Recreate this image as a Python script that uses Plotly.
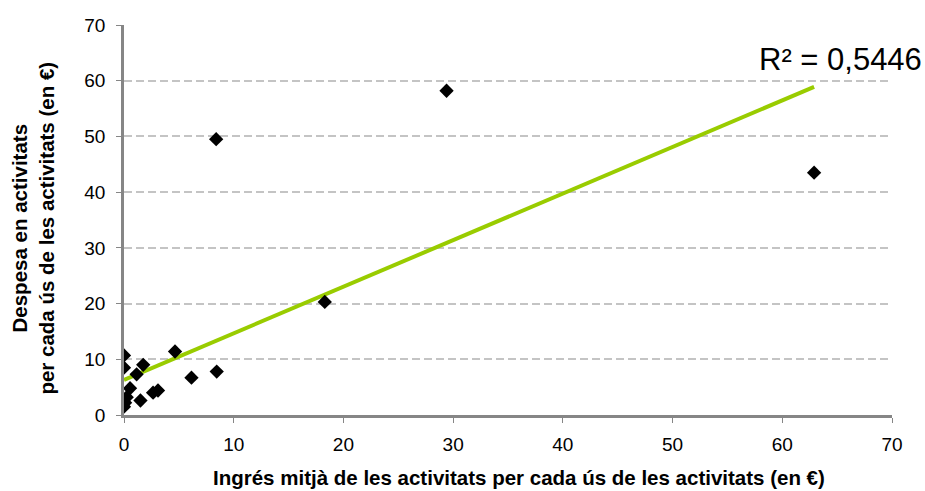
import plotly.graph_objects as go

# Average income per activity use (€) vs spending per activity use (€)
ingres = [29.4, 8.4, 62.9, 18.3, 4.65, 8.45, 6.15, 3.1, 2.65, 1.5,
          1.75, 1.15, 0.55, 0.25, 0.0, 0.0, 0.0, 0.0, 0.1]
despesa = [58.2, 49.5, 43.5, 20.3, 11.4, 7.8, 6.7, 4.4, 4.0, 2.6,
           9.0, 7.3, 4.8, 3.2, 10.7, 8.5, 2.8, 1.5, 2.2]

# Linear trend line: values at the lowest and highest income
trend_x = [min(ingres), max(ingres)]
trend_y = [6.3, 58.9]
r2_label = "R² = 0,5446"

ticks = [0, 10, 20, 30, 40, 50, 60, 70]
x_title = "<b>Ingrés mitjà de les activitats per cada ús de les activitats (en €)</b>"
y_title = "<b>Despesa en activitats<br>per cada ús de les activitats (en €)</b>"

FONT = "Liberation Sans, Arial, sans-serif"

fig = go.Figure()
fig.add_trace(go.Scatter(
    x=trend_x, y=trend_y, mode="lines",
    line=dict(color="#99cc00", width=4),
    hoverinfo="skip", showlegend=False,
))
fig.add_trace(go.Scatter(
    x=ingres, y=despesa, mode="markers",
    marker=dict(symbol="diamond", size=11, color="black"),
    showlegend=False,
))

tick_font = dict(family=FONT, size=19, color="black")
fig.update_xaxes(
    range=[0, 70], tickvals=ticks, showgrid=False, zeroline=False,
    showline=True, linecolor="#868686", linewidth=2.5,
    ticks="outside", ticklen=5, tickcolor="#868686", tickwidth=1,
    tickfont=tick_font, ticklabelstandoff=5, automargin=False, fixedrange=True,
)
fig.update_yaxes(
    range=[0, 70], tickvals=ticks, showgrid=True, gridcolor="#c4c4c4",
    griddash="8px,4px", gridwidth=2, zeroline=False,
    showline=True, linecolor="#868686", linewidth=2.5,
    ticks="outside", ticklen=5, tickcolor="#868686", tickwidth=1,
    tickfont=tick_font, ticklabelstandoff=7, automargin=False, fixedrange=True,
)

# Axis titles
fig.add_annotation(
    x=0.514, y=-0.1615, xref="paper", yref="paper",
    xanchor="center", yanchor="middle", showarrow=False,
    text=x_title, font=dict(family=FONT, size=20.5, color="black"),
)
fig.add_annotation(
    x=-0.118, y=0.479, xref="paper", yref="paper",
    xanchor="center", yanchor="middle", showarrow=False, textangle=-90,
    text=y_title, font=dict(family=FONT, size=20.5, color="black"),
)

# Coefficient of determination
fig.add_annotation(
    x=1.042, y=0.912, xref="paper", yref="paper", xanchor="right", yanchor="middle",
    text=r2_label, showarrow=False,
    font=dict(family=FONT, size=31, color="black"),
)
fig.update_layout(
    width=925, height=491,
    margin=dict(l=124, r=33, t=25, b=76),
    plot_bgcolor="white", paper_bgcolor="white",
)
fig.write_html("out.html")
